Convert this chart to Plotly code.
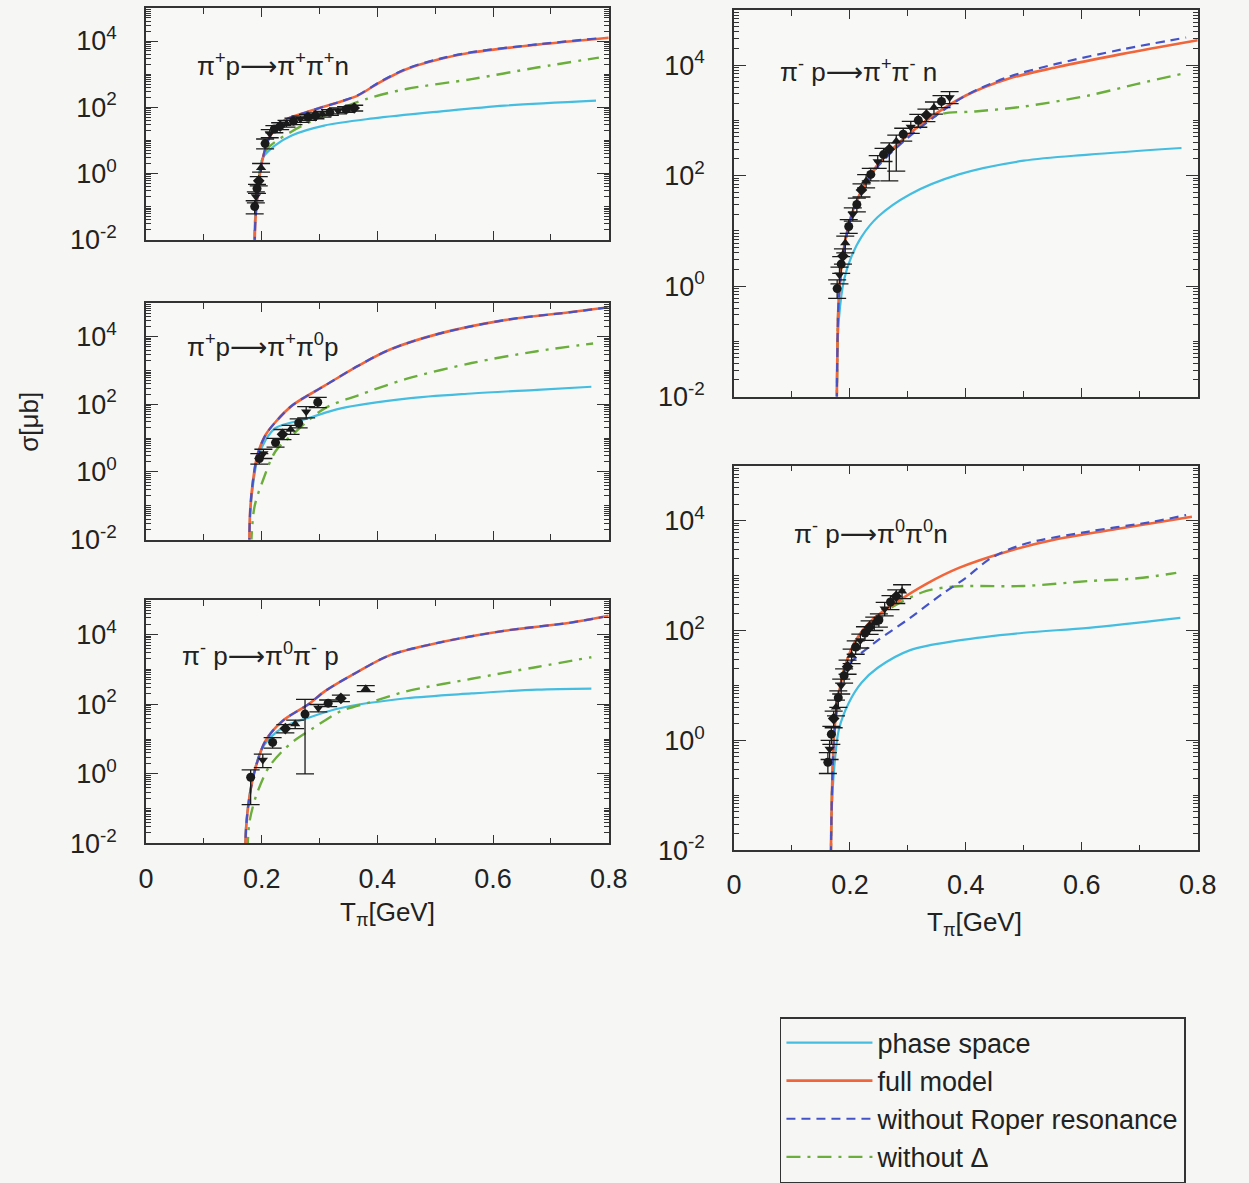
import plotly.graph_objects as go

# ---------------- data ----------------
# Panel 1: pi+ p -> pi+ pi+ n
p1_full_T = [0.187, 0.189, 0.193, 0.200, 0.213, 0.236, 0.281, 0.337, 0.366, 0.405, 0.450, 0.507, 0.563, 0.676, 0.800]
p1_full_S = [1e-4, 0.032, 0.23, 2.0, 11.7, 37, 74, 148, 224, 575, 1410, 2820, 4470, 7760, 12600]
p1_roper_T = [0.187, 0.189, 0.193, 0.200, 0.213, 0.236, 0.281, 0.337, 0.366, 0.405, 0.450, 0.507, 0.563, 0.676, 0.780]
p1_roper_S = [1e-4, 0.032, 0.23, 2.0, 11.7, 37, 74, 150, 230, 590, 1450, 2900, 4600, 7900, 12000]
p1_phase_T = [0.187, 0.189, 0.194, 0.202, 0.224, 0.252, 0.308, 0.393, 0.507, 0.620, 0.778]
p1_phase_S = [1e-4, 0.063, 0.5, 2.95, 7.2, 14.1, 28, 46, 74, 112, 158]
p1_nod_T = [0.187, 0.189, 0.195, 0.207, 0.252, 0.308, 0.383, 0.450, 0.563, 0.676, 0.783]
p1_nod_S = [1e-4, 0.05, 0.63, 4.8, 18.6, 56, 182, 355, 708, 1580, 3160]
p1_dat_T = [0.188, 0.190, 0.192, 0.195, 0.199, 0.206, 0.214, 0.222, 0.232, 0.243, 0.255, 0.267, 0.280, 0.293, 0.305, 0.318, 0.332, 0.346, 0.360]
p1_dat_S = [0.1, 0.2, 0.35, 0.6, 1.5, 8, 16, 22, 27, 32, 38, 44, 50, 56, 62, 70, 78, 86, 95]
p1_dat_Ep = [0.05, 0.08, 0.12, 0.2, 0.5, 3, 5, 6, 7, 8, 9, 10, 11, 12, 13, 15, 17, 18, 20]
p1_dat_Em = [0.04, 0.07, 0.1, 0.18, 0.4, 2.5, 4, 5, 6, 7, 8, 9, 10, 11, 12, 13, 15, 16, 18]

# Panel 2: pi+ p -> pi+ pi0 p
p2_full_T = [0.178, 0.180, 0.185, 0.193, 0.207, 0.224, 0.253, 0.309, 0.366, 0.422, 0.507, 0.620, 0.732, 0.800]
p2_full_S = [1e-4, 0.063, 0.55, 3.3, 12.6, 30, 93, 355, 1350, 4170, 12300, 30900, 52500, 74000]
p2_roper_T = [0.178, 0.180, 0.185, 0.193, 0.207, 0.224, 0.253, 0.309, 0.366, 0.422, 0.507, 0.620, 0.732, 0.800]
p2_roper_S = [1e-4, 0.063, 0.55, 3.3, 12.6, 30, 93, 355, 1350, 4170, 12300, 30900, 52500, 74000]
p2_phase_T = [0.178, 0.180, 0.185, 0.193, 0.207, 0.224, 0.281, 0.337, 0.450, 0.563, 0.676, 0.770]
p2_phase_S = [1e-4, 0.05, 0.4, 2.5, 8.9, 20, 39, 76, 148, 209, 269, 331]
p2_nod_T = [0.180, 0.183, 0.188, 0.202, 0.224, 0.253, 0.309, 0.366, 0.450, 0.563, 0.676, 0.773]
p2_nod_S = [1e-4, 0.016, 0.1, 0.55, 4.1, 12.6, 76, 182, 562, 1660, 3720, 6310]
p2_dat_T = [0.196, 0.203, 0.224, 0.236, 0.250, 0.264, 0.277, 0.297]
p2_dat_S = [2.5, 3.5, 7.4, 13, 18, 28, 60, 115]
p2_dat_Ep = [1.0, 1.2, 2.5, 5, 6, 9, 25, 45]
p2_dat_Em = [0.8, 1.0, 2.0, 4, 5, 8, 20, 35]

# Panel 3: pi- p -> pi0 pi- p
p3_full_T = [0.171, 0.173, 0.179, 0.190, 0.207, 0.236, 0.281, 0.309, 0.366, 0.422, 0.507, 0.620, 0.733, 0.800]
p3_full_S = [1e-4, 0.025, 0.22, 1.6, 9.1, 33, 100, 234, 851, 2570, 5890, 12900, 21900, 34700]
p3_roper_T = [0.171, 0.173, 0.179, 0.190, 0.207, 0.236, 0.281, 0.309, 0.366, 0.422, 0.507, 0.620, 0.733, 0.790]
p3_roper_S = [1e-4, 0.025, 0.22, 1.6, 9.1, 33, 100, 234, 851, 2570, 5890, 12900, 21900, 32000]
p3_phase_T = [0.171, 0.173, 0.185, 0.202, 0.236, 0.281, 0.337, 0.450, 0.563, 0.676, 0.770]
p3_phase_S = [1e-4, 0.032, 0.83, 5.8, 21, 41, 78, 148, 204, 263, 282]
p3_nod_T = [0.172, 0.176, 0.179, 0.190, 0.213, 0.250, 0.290, 0.337, 0.393, 0.450, 0.563, 0.676, 0.770]
p3_nod_S = [1e-4, 0.01, 0.042, 0.22, 1.6, 7.4, 21, 63, 120, 234, 537, 1175, 2240]
p3_dat_T = [0.181, 0.202, 0.219, 0.241, 0.258, 0.275, 0.298, 0.315, 0.337, 0.380]
p3_dat_S = [0.8, 2.5, 8, 20, 27, 52, 78, 107, 148, 280]
p3_dat_Ep = [0.5, 1.2, 3, 6, 8, 86, 20, 25, 35, 60]
p3_dat_Em = [0.67, 1.0, 2.5, 5, 7, 51, 18, 22, 30, 50]

# Panel 4: pi- p -> pi+ pi- n
p4_full_T = [0.177, 0.178, 0.181, 0.190, 0.203, 0.220, 0.248, 0.294, 0.344, 0.400, 0.472, 0.556, 0.668, 0.800]
p4_full_S = [1e-4, 0.032, 0.66, 5.1, 20, 54, 158, 479, 1230, 2820, 5620, 9120, 15800, 28200]
p4_roper_T = [0.177, 0.178, 0.181, 0.190, 0.203, 0.220, 0.248, 0.294, 0.344, 0.400, 0.472, 0.556, 0.668, 0.780]
p4_roper_S = [1e-4, 0.032, 0.63, 4.8, 18.6, 50, 145, 427, 1120, 2820, 6030, 10500, 19100, 31600]
p4_phase_T = [0.177, 0.178, 0.181, 0.190, 0.203, 0.220, 0.248, 0.304, 0.388, 0.500, 0.612, 0.772]
p4_phase_S = [1e-4, 0.032, 0.25, 1.32, 3.5, 7.8, 17.8, 46, 105, 186, 240, 316]
p4_nod_T = [0.177, 0.178, 0.181, 0.190, 0.203, 0.220, 0.248, 0.294, 0.330, 0.360, 0.416, 0.500, 0.612, 0.696, 0.772]
p4_nod_S = [1e-4, 0.032, 0.63, 4.9, 19, 51, 151, 457, 955, 1320, 1450, 1780, 2820, 4570, 6920]
p4_dat_T = [0.178, 0.182, 0.185, 0.188, 0.192, 0.198, 0.205, 0.212, 0.220, 0.228, 0.236, 0.248, 0.258, 0.268, 0.280, 0.292, 0.305, 0.318, 0.332, 0.345, 0.358, 0.372]
p4_dat_S = [0.9, 1.6, 2.5, 3.5, 6, 12, 20, 30, 55, 80, 105, 180, 240, 300, 420, 560, 760, 1000, 1250, 1700, 2200, 2600]
p4_dat_Ep = [0.4, 0.6, 0.9, 1.2, 2, 4, 6, 9, 16, 24, 30, 50, 70, 90, 120, 160, 200, 280, 350, 450, 600, 700]
p4_dat_Em = [0.3, 0.5, 0.8, 1.0, 2, 3, 5, 8, 14, 20, 25, 45, 60, 220, 300, 140, 180, 250, 300, 400, 500, 600]

# Panel 5: pi- p -> pi0 pi0 n
p5_full_T = [0.167, 0.168, 0.173, 0.181, 0.193, 0.210, 0.237, 0.277, 0.332, 0.388, 0.472, 0.556, 0.668, 0.790]
p5_full_S = [1e-4, 0.032, 1.38, 7.2, 25, 66, 151, 309, 708, 1380, 2750, 4570, 7240, 11700]
p5_roper_T = [0.167, 0.168, 0.173, 0.181, 0.193, 0.210, 0.248, 0.304, 0.360, 0.399, 0.444, 0.500, 0.612, 0.723, 0.780]
p5_roper_S = [1e-4, 0.032, 1.26, 6.3, 21, 32, 66, 170, 468, 891, 2090, 3720, 6310, 9550, 12600]
p5_phase_T = [0.167, 0.168, 0.173, 0.181, 0.198, 0.220, 0.248, 0.304, 0.388, 0.500, 0.612, 0.770]
p5_phase_S = [1e-4, 0.032, 0.32, 1.58, 4.8, 11.2, 21, 44, 66, 91, 112, 170]
p5_nod_T = [0.167, 0.168, 0.173, 0.181, 0.193, 0.210, 0.237, 0.277, 0.332, 0.380, 0.410, 0.500, 0.612, 0.696, 0.763]
p5_nod_S = [1e-4, 0.032, 1.38, 7.2, 25, 63, 141, 282, 525, 631, 646, 646, 794, 891, 1120]
p5_dat_T = [0.162, 0.165, 0.168, 0.172, 0.176, 0.180, 0.185, 0.190, 0.196, 0.203, 0.210, 0.218, 0.226, 0.234, 0.242, 0.250, 0.260, 0.270, 0.280, 0.290]
p5_dat_S = [0.4, 0.7, 1.3, 2.5, 4, 6, 10, 15, 22, 35, 50, 66, 90, 115, 135, 155, 250, 330, 420, 520]
p5_dat_Ep = [0.2, 0.3, 0.5, 0.9, 1.4, 2, 3, 5, 7, 11, 15, 20, 27, 35, 40, 45, 75, 100, 130, 160]
p5_dat_Em = [0.15, 0.25, 0.45, 0.8, 1.2, 2, 3, 4, 6, 10, 13, 18, 24, 30, 35, 40, 65, 90, 110, 140]

ARROW = "<span style='font-family:DejaVu Sans'>⟶</span>"
panel_titles = [
    "π<sup>+</sup>p" + ARROW + "π<sup>+</sup>π<sup>+</sup>n",
    "π<sup>+</sup>p" + ARROW + "π<sup>+</sup>π<sup>0</sup>p",
    "π<sup>-</sup> p" + ARROW + "π<sup>0</sup>π<sup>-</sup> p",
    "π<sup>-</sup> p" + ARROW + "π<sup>+</sup>π<sup>-</sup> n",
    "π<sup>-</sup> p" + ARROW + "π<sup>0</sup>π<sup>0</sup>n",
]
series_names = ["phase space", "full model", "without Roper resonance", "without Δ"]
y_tick_vals = [1e-2, 1, 1e2, 1e4]
y_tick_text = ["10<sup>-2</sup>", "10<sup>0</sup>", "10<sup>2</sup>", "10<sup>4</sup>"]
x_tick_vals = [0, 0.2, 0.4, 0.6, 0.8]
x_tick_text = ["0", "0.2", "0.4", "0.6", "0.8"]

panels = [
    (p1_phase_T, p1_phase_S, p1_full_T, p1_full_S, p1_roper_T, p1_roper_S, p1_nod_T, p1_nod_S, p1_dat_T, p1_dat_S, p1_dat_Ep, p1_dat_Em),
    (p2_phase_T, p2_phase_S, p2_full_T, p2_full_S, p2_roper_T, p2_roper_S, p2_nod_T, p2_nod_S, p2_dat_T, p2_dat_S, p2_dat_Ep, p2_dat_Em),
    (p3_phase_T, p3_phase_S, p3_full_T, p3_full_S, p3_roper_T, p3_roper_S, p3_nod_T, p3_nod_S, p3_dat_T, p3_dat_S, p3_dat_Ep, p3_dat_Em),
    (p4_phase_T, p4_phase_S, p4_full_T, p4_full_S, p4_roper_T, p4_roper_S, p4_nod_T, p4_nod_S, p4_dat_T, p4_dat_S, p4_dat_Ep, p4_dat_Em),
    (p5_phase_T, p5_phase_S, p5_full_T, p5_full_S, p5_roper_T, p5_roper_S, p5_nod_T, p5_nod_S, p5_dat_T, p5_dat_S, p5_dat_Ep, p5_dat_Em),
]

# ---------------- layout geometry (reference pixels -> fractions) ----------------
W, H = 1249, 1183
boxes = [  # x0, x1, ytop, ybottom
    (141, 614, 8, 243),
    (141, 614, 307, 547),
    (141, 614, 608, 855),
    (742, 1216, 10, 402),
    (742, 1216, 472, 862),
]
title_pos = [(0.105, 0.757), (0.085, 0.82), (0.074, 0.777), (0.095, 0.842), (0.125, 0.826)]
show_xlabels = [False, False, True, False, True]

C_PHASE = "#45bde0"
C_FULL = "#f1653a"
C_ROPER = "#4553c8"
C_NOD = "#6cae3c"
FONT = "Liberation Sans, Arial, Helvetica, sans-serif"
BG = "#f6f7f4"

fig = go.Figure()
marker_cycle = ["circle", "triangle-down", "circle", "diamond", "triangle-up"]
SPL = dict(shape="spline", smoothing=0.9)

for i, (phT, phS, fT, fS, rT, rS, nT, nS, dT, dS, dEp, dEm) in enumerate(panels):
    k = "" if i == 0 else str(i + 1)
    xa, ya = "x" + k, "y" + k
    first = i == 0
    fig.add_trace(go.Scatter(x=phT, y=phS, mode="lines", xaxis=xa, yaxis=ya,
                             line=dict(color=C_PHASE, width=2.2, **SPL), name=series_names[0],
                             legendgroup="ph", showlegend=first, legendrank=1))
    fig.add_trace(go.Scatter(x=nT, y=nS, mode="lines", xaxis=xa, yaxis=ya,
                             line=dict(color=C_NOD, width=2.4, dash="14px,7px,3px,7px", **SPL), name=series_names[3],
                             legendgroup="nd", showlegend=first, legendrank=4))
    fig.add_trace(go.Scatter(x=fT, y=fS, mode="lines", xaxis=xa, yaxis=ya,
                             line=dict(color=C_FULL, width=2.6, **SPL), name=series_names[1],
                             legendgroup="fm", showlegend=first, legendrank=2))
    fig.add_trace(go.Scatter(x=rT, y=rS, mode="lines", xaxis=xa, yaxis=ya,
                             line=dict(color=C_ROPER, width=2.2, dash="9px,6px", **SPL), name=series_names[2],
                             legendgroup="ro", showlegend=first, legendrank=3))
    fig.add_trace(go.Scatter(x=dT, y=dS, mode="markers", xaxis=xa, yaxis=ya, showlegend=False,
                             marker=dict(color="#1a1a1a", size=9,
                                         symbol=[marker_cycle[j % len(marker_cycle)] for j in range(len(dT))]),
                             error_y=dict(type="data", symmetric=False, array=dEp, arrayminus=dEm,
                                          color="#1a1a1a", thickness=1.3, width=9)))

    x0, x1, yt, yb = boxes[i]
    common = dict(showline=True, linecolor="#333", linewidth=1.5, mirror="ticks",
                  ticks="inside", tickcolor="#333", showgrid=False, zeroline=False,
                  tickfont=dict(family=FONT, size=27, color="#222"))
    fig.layout["xaxis" + k] = dict(
        domain=[x0 / W, x1 / W], anchor=ya, range=[0, 0.8],
        tickmode="array", tickvals=x_tick_vals, ticktext=x_tick_text,
        showticklabels=show_xlabels[i], ticklen=9, tickwidth=1.3, ticklabelstandoff=10,
        minor=dict(dtick=0.1, tick0=0, ticks="inside", ticklen=6, tickcolor="#333", tickwidth=1.2),
        **common)
    decades = [-2, -1, 0, 1, 2, 3, 4]
    minor_vals = [d * 10.0 ** e for e in decades for d in range(2, 10)] + [0.1, 10, 1000]
    fig.layout["yaxis" + k] = dict(
        domain=[1 - yb / H, 1 - yt / H], anchor=xa, type="log", range=[-2, 5],
        tickmode="array", tickvals=y_tick_vals, ticktext=y_tick_text, ticklen=12, tickwidth=1.3,
        ticklabelstandoff=22,
        minor=dict(tickmode="array", tickvals=minor_vals, ticks="inside", ticklen=5,
                   tickcolor="#333", tickwidth=1),
        **common)
    tx, ty = title_pos[i]
    fig.add_annotation(text=panel_titles[i], xref=xa + " domain", yref=ya + " domain",
                       x=tx, y=ty, xanchor="left", yanchor="middle", showarrow=False,
                       font=dict(family=FONT, size=26, color="#222"))

fig.add_annotation(text="σ[μb]", xref="paper", yref="paper", x=22 / W, y=1 - 428 / H,
                   xanchor="center", yanchor="middle",
                   textangle=-90, showarrow=False, font=dict(family=FONT, size=26, color="#222"))
fig.add_annotation(text="T<sub>π</sub>[GeV]", xref="paper", yref="paper", x=388 / W, y=1 - 926 / H,
                   xanchor="center", yanchor="middle",
                   showarrow=False, font=dict(family=FONT, size=26, color="#222"))
fig.add_annotation(text="T<sub>π</sub>[GeV]", xref="paper", yref="paper", x=988 / W, y=1 - 936 / H,
                   xanchor="center", yanchor="middle",
                   showarrow=False, font=dict(family=FONT, size=26, color="#222"))

fig.update_layout(
    width=W, height=H, autosize=False,
    margin=dict(l=0, r=0, t=0, b=0, pad=0),
    paper_bgcolor=BG, plot_bgcolor="#f8f9f7",
    font=dict(family=FONT, color="#222"),
    legend=dict(x=789 / W, y=1 - 1031 / H, xanchor="left", yanchor="top",
                bordercolor="#333", borderwidth=1.5, bgcolor=BG,
                font=dict(family=FONT, size=27, color="#222"),
                itemwidth=86, tracegroupgap=0, traceorder="normal"),
)

POST = (
    "document.documentElement.style.margin='0';"
    "document.documentElement.style.overflow='hidden';"
    "document.body.style.margin='0';"
    "document.body.style.overflow='hidden';"
    "var gd=document.getElementById('{plot_id}');"
    "gd.style.position='absolute';gd.style.left='0px';gd.style.top='0px';"
)
fig.write_html("out.html", config={"displayModeBar": False}, post_script=POST)
